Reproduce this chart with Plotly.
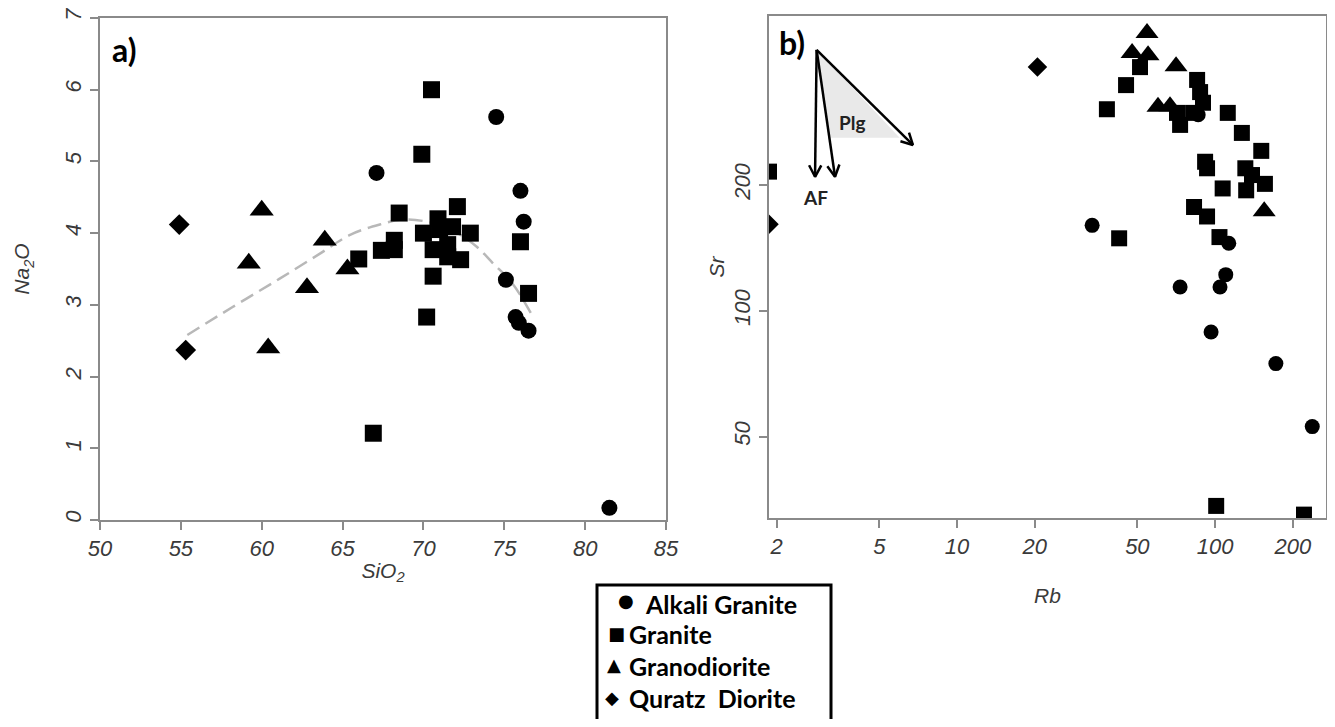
import numpy as np
import plotly.graph_objects as go

# page is 1335x727; the html body adds an 8px margin, so the figure is 16px smaller
OFF = 8
W, H = 1335 - 2 * OFF, 727 - 2 * OFF

# ---------------- Panel a: SiO2 vs Na2O ----------------
ag_sio2 = [67.1, 74.5, 76.0, 76.2, 75.1, 75.7, 75.9, 76.5, 81.5]
ag_na2o = [4.84, 5.62, 4.59, 4.16, 3.35, 2.83, 2.75, 2.64, 0.17]

gr_sio2 = [70.5, 69.9, 68.5, 72.1, 70.9, 70.0, 71.0, 71.8, 72.9, 70.6, 71.5,
           72.3, 71.5, 70.6, 70.2, 68.2, 68.2, 67.4, 66.0, 76.0, 76.5, 66.9]
gr_na2o = [6.00, 5.10, 4.28, 4.37, 4.20, 4.00, 4.05, 4.09, 4.00, 3.77, 3.84,
           3.63, 3.67, 3.40, 2.83, 3.90, 3.77, 3.76, 3.64, 3.88, 3.16, 1.21]

gd_sio2 = [60.0, 59.2, 63.9, 62.8, 65.3, 60.4]
gd_na2o = [4.32, 3.58, 3.90, 3.24, 3.50, 2.40]

qd_sio2 = [54.9, 55.3]
qd_na2o = [4.12, 2.37]

trend_sio2 = [55.4, 58.2, 61.0, 63.5, 65.5, 67.3, 68.7, 70.4, 72.1, 73.3, 74.3, 75.5, 76.8]
trend_na2o = [2.58, 2.97, 3.35, 3.70, 3.98, 4.12, 4.19, 4.15, 4.00, 3.81, 3.58, 3.30, 2.82]

# ---------------- Panel b: Rb vs Sr ----------------
ag_rb = [86, 33.4, 113, 110, 104.5, 73.2, 96.5, 172, 238]
ag_sr = [294, 160, 145, 122, 114, 114, 89, 74.8, 52.9]

gr_rb = [51.2, 45.2, 38.1, 85.2, 87.5, 89.8, 82.2, 71.2, 73.2, 112, 127, 151,
         91.5, 93.1, 131, 139, 156, 132, 107, 82.9, 93.1, 104, 42.5, 1.87, 101, 221]
gr_sr = [382, 346, 303, 356, 333, 314, 297, 297, 278, 297, 266, 241,
         227, 219, 219, 211, 201, 194, 196, 177, 168, 150, 149, 215, 34.2, 32.6]

gd_rb = [54.5, 47.7, 55.0, 70.6, 60.1, 66.9, 155]
gd_sr = [461, 413, 408, 384, 307, 308, 173]

qd_rb = [1.87, 20.5]
qd_sr = [161, 382]

# vector arrows (Rb, Sr): apex and arrow tips
vec_origin = (2.86, 420)
vec_af1 = (2.82, 209)
vec_af2 = (3.37, 209)
vec_plg = (6.75, 249)
plg_shade_rb = [2.86, 3.19, 6.0]
plg_shade_sr = [420, 259, 259]

xa_ticks = [50, 55, 60, 65, 70, 75, 80, 85]
ya_ticks = [0, 1, 2, 3, 4, 5, 6, 7]
xb_ticks = [2, 5, 10, 20, 50, 100, 200]
yb_ticks = [50, 100, 200]

legend_labels = ["Alkali Granite", "Granite", "Granodiorite", "Quratz\u00a0\u00a0Diorite"]
legend_glyphs = ["\u25CF", "\u25A0", "\u25B2", "\u25C6"]

# ---------------- layout geometry (page pixels) ----------------
A_L, A_R, A_T, A_B = 100, 666, 18, 520
B_L, B_R, B_T, B_B = 769, 1326, 16, 518
xb_range = [np.log10(1.87), np.log10(269)]
yb_range = [np.log10(32), np.log10(506)]

def dom_x(l, r):
    return [(l - OFF) / W, (r - OFF) / W]

def dom_y(t, b):
    return [1 - (b - OFF) / H, 1 - (t - OFF) / H]

def P(x, y):
    return (x - OFF) / W, 1 - (y - OFF) / H

fig = go.Figure()

mk = dict(color="black", line=dict(width=0))

# trend line
fig.add_trace(go.Scatter(x=trend_sio2, y=trend_na2o, mode="lines", line_shape="spline",
                         line=dict(color="#b8b8b8", width=2.5, dash="14px,7px"),
                         xaxis="x", yaxis="y", showlegend=False, hoverinfo="skip"))

series = [
    ("Alkali Granite", "circle", 16, ag_sio2, ag_na2o, ag_rb, ag_sr),
    ("Granite", "square", 17, gr_sio2, gr_na2o, gr_rb, gr_sr),
    ("Granodiorite", "triangle-up", 21, gd_sio2, gd_na2o, gd_rb, gd_sr),
    ("Quratz Diorite", "diamond", 16, qd_sio2, qd_na2o, qd_rb, qd_sr),
]
for name, sym, size, xa, ya, xb, yb in series:
    fig.add_trace(go.Scatter(x=xa, y=ya, mode="markers", name=name,
                             marker=dict(symbol=sym, size=size, **mk),
                             xaxis="x", yaxis="y", showlegend=False))
    fig.add_trace(go.Scatter(x=xb, y=yb, mode="markers", name=name,
                             marker=dict(symbol=sym, size=size - 1, **mk),
                             xaxis="x2", yaxis="y2", showlegend=False))

# shaded Plg field
fig.add_trace(go.Scatter(x=plg_shade_rb, y=plg_shade_sr, mode="lines", fill="toself",
                         fillcolor="rgba(215,215,215,0.55)", line=dict(width=0),
                         xaxis="x2", yaxis="y2", showlegend=False, hoverinfo="skip"))

# arrows on log axes, heads computed in pixel space
wpx, hpx = B_R - B_L, B_B - B_T

def to_px(rb, sr):
    X = (np.log10(rb) - xb_range[0]) / (xb_range[1] - xb_range[0]) * wpx
    Y = (np.log10(sr) - yb_range[0]) / (yb_range[1] - yb_range[0]) * hpx
    return np.array([X, Y])

def to_data(p):
    rb = 10 ** (xb_range[0] + p[0] / wpx * (xb_range[1] - xb_range[0]))
    sr = 10 ** (yb_range[0] + p[1] / hpx * (yb_range[1] - yb_range[0]))
    return rb, sr

def arrow(p0, p1, L=13, ang=28):
    a, b = to_px(*p0), to_px(*p1)
    d = (b - a) / np.linalg.norm(b - a)
    out_x, out_y = [], []
    for s in (1, -1):
        t = np.radians(ang * s)
        rot = np.array([d[0] * np.cos(t) - d[1] * np.sin(t), d[0] * np.sin(t) + d[1] * np.cos(t)])
        h = b - L * rot
        hx, hy = to_data(h)
        out_x.append(hx)
        out_y.append(hy)
    xs = [p0[0], p1[0], None, out_x[0], p1[0], out_x[1]]
    ys = [p0[1], p1[1], None, out_y[0], p1[1], out_y[1]]
    fig.add_trace(go.Scatter(x=xs, y=ys, mode="lines", line=dict(color="black", width=2.5),
                             xaxis="x2", yaxis="y2", showlegend=False, hoverinfo="skip",
                             cliponaxis=False))

for tip in (vec_af1, vec_af2, vec_plg):
    arrow(vec_origin, tip)

tickfont = dict(family="Liberation Sans, Arial", size=22, color="#3a3a3a", style="italic")
titlefont = dict(family="Liberation Sans, Arial", size=21, color="#3a3a3a", style="italic")
axis_common = dict(showgrid=False, zeroline=False, showline=True, mirror=True,
                   linecolor="#8a8a8a", linewidth=1.5, ticks="outside", ticklen=8,
                   tickcolor="#8a8a8a", tickwidth=1.5, tickfont=tickfont, automargin=False,
                   ticklabeloverflow="allow")

fig.update_layout(
    width=W, height=H, margin=dict(l=0, r=0, t=0, b=0, autoexpand=False),
    paper_bgcolor="white", plot_bgcolor="white",
    xaxis=dict(domain=dom_x(A_L, A_R), range=[50, 85], tickvals=xa_ticks, anchor="y",
               title=dict(text="SiO<sub>2</sub>", font=titlefont, standoff=3), **axis_common),
    yaxis=dict(domain=dom_y(A_T, A_B), range=[0, 7], tickvals=ya_ticks, anchor="x",
               tickangle=-90,
               title=dict(text="Na<sub>2</sub>O", font=titlefont, standoff=26), **axis_common),
    xaxis2=dict(domain=dom_x(B_L, B_R), type="log", range=xb_range, tickvals=xb_ticks,
                anchor="y2",
                title=dict(text="Rb", font=titlefont, standoff=30), **axis_common),
    yaxis2=dict(domain=dom_y(B_T, B_B), type="log", range=yb_range, tickvals=yb_ticks,
                anchor="x2", tickangle=-90,
                title=dict(text="Sr", font=titlefont, standoff=0), **axis_common),
    showlegend=False,
)

ann = []
# panel labels
for txt, (px_, py_) in (("a)", (124, 50)), ("b)", (792, 43))):
    ax_, ay_ = P(px_, py_)
    ann.append(dict(text=f"<b>{txt}</b>", x=ax_, y=ay_, xref="paper", yref="paper",
                    xanchor="center", yanchor="middle",
                    showarrow=False, font=dict(family="Lato", size=32, color="black")))
# vector labels (data coords on log axes)
for txt, rb, sr in (("Plg", 3.95, 282), ("AF", 2.82, 186)):
    ann.append(dict(text=f"<b>{txt}</b>", x=np.log10(rb), y=np.log10(sr), xref="x2", yref="y2",
                    xanchor="center", yanchor="middle",
                    showarrow=False, font=dict(family="Lato", size=19, color="#222")))

# legend (symbol + label lines inside a black box)
glyph_pos = [(626, 600), (616, 633), (614, 664), (612, 697)]
text_pos = [(643, 604), (627, 634), (627, 666), (627, 698)]
for g, lab, gp, tp in zip(legend_glyphs, legend_labels, glyph_pos, text_pos):
    gx, gy = P(*gp)
    tx, ty = P(*tp)
    ann.append(dict(text=g, x=gx, y=gy, xref="paper", yref="paper", showarrow=False,
                    xanchor="center", yanchor="middle",
                    font=dict(family="DejaVu Sans", size=18, color="black")))
    ann.append(dict(text=f"<b>{lab}</b>", x=tx, y=ty, xref="paper", yref="paper",
                    showarrow=False, xanchor="left", yanchor="middle",
                    font=dict(family="Lato", size=25, color="black")))
fig.update_layout(annotations=ann)

x0, y1 = P(597, 585)
x1, _ = P(831, 0)
fig.add_shape(type="rect", xref="paper", yref="paper", x0=x0, x1=x1, y0=-0.03, y1=y1,
              line=dict(color="black", width=3), fillcolor="rgba(0,0,0,0)")

fig.write_html("out.html")
